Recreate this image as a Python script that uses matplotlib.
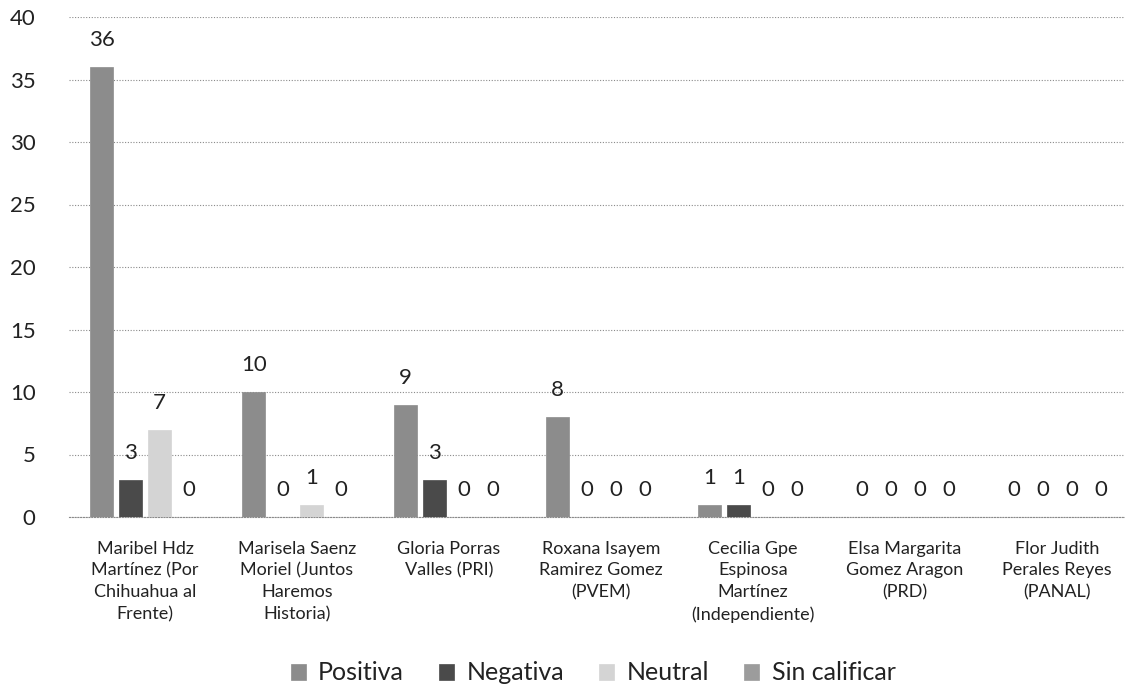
import matplotlib
matplotlib.use("Agg")
import matplotlib.pyplot as plt
import numpy as np

categories = [
    "Maribel Hdz\nMartínez (Por\nChihuahua al\nFrente)",
    "Marisela Saenz\nMoriel (Juntos\nHaremos\nHistoria)",
    "Gloria Porras\nValles (PRI)",
    "Roxana Isayem\nRamirez Gomez\n(PVEM)",
    "Cecilia Gpe\nEspinosa\nMartínez\n(Independiente)",
    "Elsa Margarita\nGomez Aragon\n(PRD)",
    "Flor Judith\nPerales Reyes\n(PANAL)",
]
series_names = ["Positiva", "Negativa", "Neutral", "Sin calificar"]
positiva = [36, 10, 9, 8, 1, 0, 0]
negativa = [3, 0, 3, 0, 1, 0, 0]
neutral = [7, 1, 0, 0, 0, 0, 0]
sin_calificar = [0, 0, 0, 0, 0, 0, 0]
yticks = [0, 5, 10, 15, 20, 25, 30, 35, 40]

series = [positiva, negativa, neutral, sin_calificar]
colors = ["#8c8c8c", "#4a4a4a", "#d4d4d4", "#9c9c9c"]

plt.rcParams['font.family'] = ['Lato', 'DejaVu Sans']

fig = plt.figure(figsize=(11.25, 6.88), dpi=100)
ax = fig.add_axes([69 / 1125, 1 - 517 / 688, (1133 - 69) / 1125, (517 - 17) / 688])

x = np.arange(len(categories))
step = 0.19
width = 0.155
for k, (vals, name, col) in enumerate(zip(series, series_names, colors)):
    pos = x + (k - 1.5) * step
    ax.bar(pos, vals, width=width, color=col, label=name,
           edgecolor=col, linewidth=0.5, zorder=3)
    for xi, v in zip(pos, vals):
        ax.annotate(str(v), (xi, v), xytext=(0, 15), textcoords='offset points',
                    ha='center', va='baseline', fontsize=16, color='#222222')

ax.set_xlim(-0.5, len(categories) - 0.5)
ax.set_ylim(0, 40)
ax.set_yticks(yticks)
ax.set_yticklabels([str(t) for t in yticks], fontsize=16, color='#222222')
ax.set_xticks(x)
ax.set_xticklabels(categories, fontsize=13, color='#222222', linespacing=1.45)
ax.tick_params(axis='y', length=0, pad=24)
ax.tick_params(axis='x', length=0, pad=17)
ax.yaxis.grid(True, color='#8a8a8a', linestyle=(0, (1, 1.5)), linewidth=0.8, zorder=0)
for s in ['top', 'right', 'left']:
    ax.spines[s].set_visible(False)
ax.spines['bottom'].set_color('#8a8a8a')
ax.spines['bottom'].set_linestyle((0, (1, 1.5)))
ax.spines['bottom'].set_linewidth(0.8)

leg = fig.legend(loc='center', bbox_to_anchor=(593 / 1125, 1 - 673 / 688), ncol=4,
                 frameon=False, fontsize=18, handlelength=0.6, handleheight=0.6,
                 handletextpad=0.5, columnspacing=1.4)
for t in leg.get_texts():
    t.set_color('#222222')

fig.savefig("out.png", dpi=100)
